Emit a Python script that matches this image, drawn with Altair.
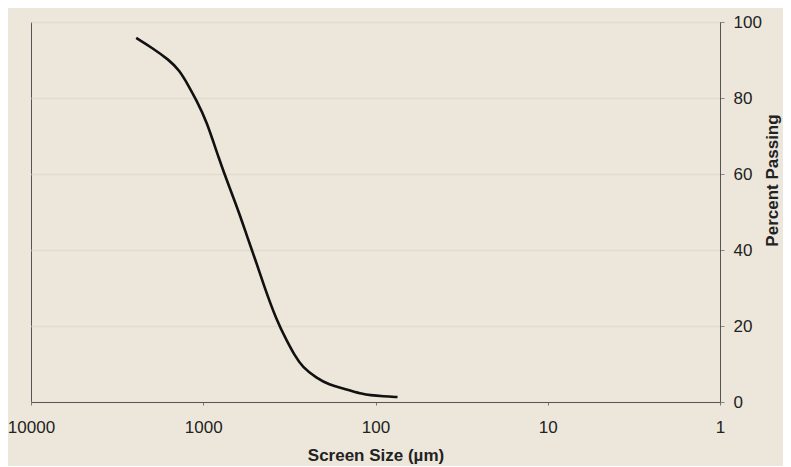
import altair as alt
import pandas as pd

# Screen size (µm) and cumulative percent passing
sizes = [2450, 1980, 1578, 1380, 1206, 1099, 961, 807, 706, 618, 555, 505,
         442, 376, 329, 296, 266, 220, 185, 156, 142, 119, 108, 90, 74.5]
percent = [95.8, 93.2, 90.0, 87.4, 82.9, 79.5, 74.2, 63.7, 56.6, 49.7, 43.4,
           38.2, 30.3, 21.6, 16.3, 12.4, 9.2, 6.3, 4.5, 3.6, 3.1, 2.1, 1.8,
           1.5, 1.3]
x_ticks = [1, 10, 100, 1000, 10000]
y_ticks = [0, 20, 40, 60, 80, 100]

df = pd.DataFrame({"size": sizes, "pct": percent, "i": list(range(len(sizes)))})

FONT = "Liberation Sans"
BG = "#ede7db"

line = alt.Chart(df).mark_line(
    color="#111111", strokeWidth=2.6, interpolate="basis"
).encode(
    x=alt.X(
        "size:Q",
        scale=alt.Scale(type="log", domain=[1, 10000], reverse=True),
        axis=alt.Axis(
            values=x_ticks, format="d", title="Screen Size (µm)",
            grid=False, tickSize=3, labelPadding=14, titlePadding=12,
            labelFontSize=17, titleFontSize=17, titleFontWeight="bold",
            labelFont=FONT, titleFont=FONT, labelColor="#222222",
            titleColor="#222222", domainColor="#555555", tickColor="#777777",
            labelFlush=False,
        ),
    ),
    y=alt.Y(
        "pct:Q",
        scale=alt.Scale(domain=[0, 100]),
        axis=alt.Axis(
            orient="right", values=y_ticks, title="Percent Passing",
            grid=True, gridColor="#e2dbce", gridWidth=1.5,
            tickSize=4, labelPadding=9, titlePadding=20,
            titleAngle=270, titleY=158,
            labelFontSize=17, titleFontSize=17, titleFontWeight="bold",
            labelFont=FONT, titleFont=FONT, labelColor="#222222",
            titleColor="#222222", domainColor="#555555", tickColor="#888888",
            labelAlign="left", labelBaseline="middle",
        ),
    ),
    order="i:Q",
)

chart = line.properties(
    width=689, height=380,
    background=BG,
    padding={"left": 23, "top": 14, "right": 63, "bottom": 64},
    autosize=alt.AutoSizeParams(type="none"),
).configure_view(
    stroke="#555555", strokeWidth=1, fill=BG
)

chart.save("out.html", embed_options={"renderer": "svg", "actions": False})
